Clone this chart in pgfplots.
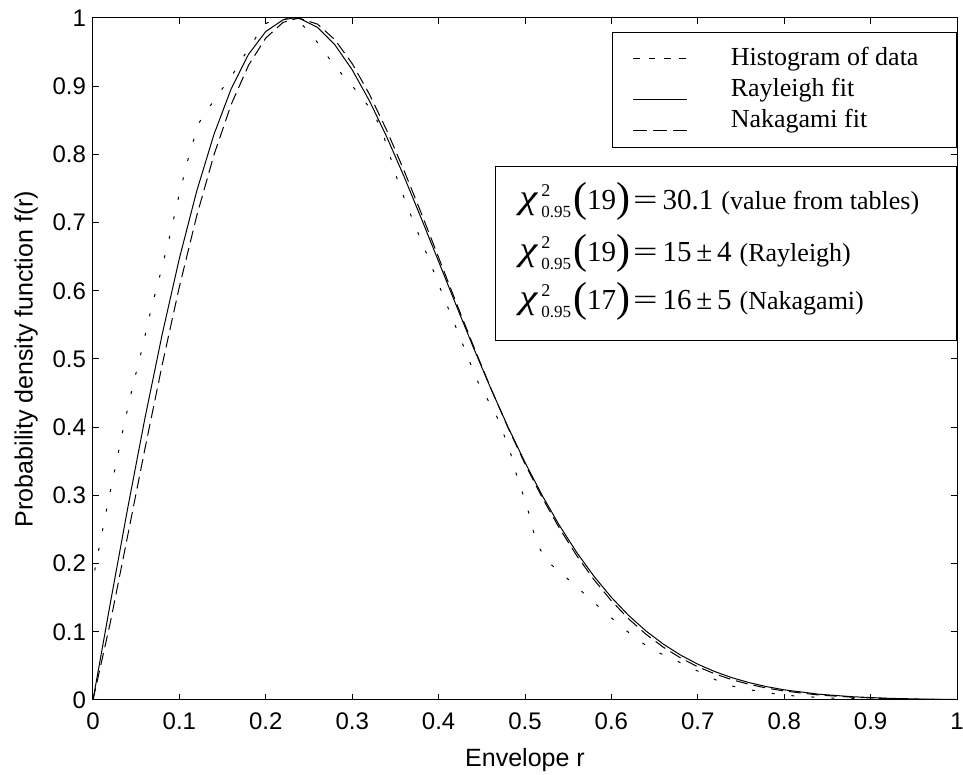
\documentclass[border=0pt]{standalone}
\usepackage{fontspec}
\setmainfont{Liberation Serif}
\setsansfont{Liberation Sans}
\usepackage{graphicx}
\usepackage{pgfplots}
\pgfplotsset{compat=1.18}
\newcommand{\bigpar}[1]{\raisebox{-1pt}{\fontsize{21}{21}\selectfont #1}}
\newcommand{\chisq}[1]{\raisebox{0.5pt}{\scalebox{1.2}[1]{\fontsize{17}{17}\selectfont\itshape χ}}\hspace{2pt}%
  \rlap{\raisebox{6.5pt}{\fontsize{9}{9}\selectfont 2}}\raisebox{-4pt}{\fontsize{8.5}{9}\selectfont 0.95}\hspace{1pt}%
  \bigpar{(}{\fontsize{14.5}{16}\selectfont #1}\bigpar{)}\hspace{1.5pt}%
  {\fontsize{14.5}{16}\selectfont\scalebox{1.5}[1]{=}}\hspace{2.5pt}}
\begin{document}
\begin{tikzpicture}
\useasboundingbox (-46.5pt,-37.5pt) rectangle (435pt,350pt);
\begin{axis}[name=ax, at={(0,0)}, anchor=south west,
  scale only axis, width=432pt, height=341pt,
  xmin=0, xmax=1, ymin=0, ymax=1,
  xtick={0,0.1,0.2,0.3,0.4,0.5,0.6,0.7,0.8,0.9,1},
  ytick={0,0.1,0.2,0.3,0.4,0.5,0.6,0.7,0.8,0.9,1},
  tick align=inside, tick pos=both, major tick length=3pt,
  axis line style={line width=0.5pt},
  every tick/.style={black, line width=0.5pt},
  tick label style={font=\sffamily\fontsize{12}{14}\selectfont},
  /pgf/number format/assume math mode=true,
  xticklabel style={yshift=-3pt},
  xlabel={Envelope r},
  ylabel={Probability density function f(r)},
  label style={font=\sffamily\fontsize{12.5}{14}\selectfont},
  xlabel style={at={(axis description cs:0.5,-0.088)}, anchor=center},
  ylabel style={at={(axis description cs:-0.0775,0.5)}, anchor=center},
  legend cell align=left,
  legend style={at={(1,0.9795)}, anchor=north east, draw=black, line width=0.5pt,
    fill=white, inner xsep=10pt, inner ysep=7pt, row sep=3pt,
    font=\fontsize{13}{15}\selectfont,
    nodes={inner sep=0pt, text height=9.5pt, text depth=3pt},
    /tikz/every odd column/.append style={column sep=21.5pt}},
]
\addplot[black, line width=0.5pt, dash pattern=on 1.5pt off 8.5pt,
  legend image code/.code={\draw[black, line width=0.5pt, dash pattern=on 3.3pt off 4.4pt] (0pt,0pt) -- (27pt,0pt);}]
  coordinates {(0.002,0.19)(0.009,0.236)(0.0177,0.292)(0.027,0.348)(0.036,0.404)(0.046,0.46)(0.057,0.516)(0.067,0.572)(0.078,0.625)(0.089,0.681)(0.099,0.737)(0.110,0.793)(0.122,0.845)(0.135,0.870)(0.149,0.895)(0.162,0.918)(0.174,0.943)(0.186,0.966)(0.197,0.990)(0.21,0.998)(0.225,1.0)(0.24,0.993)(0.251,0.978)(0.2655,0.955)(0.278,0.932)(0.2935,0.910)(0.3077,0.889)(0.321,0.867)(0.333,0.840)(0.34,0.813)(0.3535,0.758)(0.370,0.704)(0.3875,0.650)(0.404,0.597)(0.421,0.5435)(0.4376,0.491)(0.446,0.465)(0.457,0.440)(0.4676,0.415)(0.4756,0.389)(0.4833,0.362)(0.489,0.335)(0.496,0.308)(0.503,0.281)(0.5085,0.252)(0.5155,0.225)(0.527,0.202)(0.5446,0.183)(0.5616,0.164)(0.578,0.145)(0.595,0.126)(0.612,0.107)(0.631,0.088)(0.648,0.073)(0.670,0.061)(0.689,0.049)(0.709,0.037)(0.730,0.0235)(0.751,0.017)(0.774,0.012)(0.80,0.007)(0.85,0.003)(0.90,0.0012)(0.95,0.0005)(1.00,0.0)};
\addlegendentry{Histogram of data\hspace*{9pt}}
\addplot[black, line width=0.5pt,
  legend image code/.code={\draw[black, line width=0.5pt] (0pt,-5pt) -- (27pt,-5pt);}]
  coordinates {(0,0)(0.02,0.1416)(0.04,0.2801)(0.06,0.4124)(0.08,0.5357)(0.10,0.6476)(0.12,0.7460)(0.14,0.8293)(0.16,0.8964)(0.18,0.9467)(0.20,0.9802)(0.22,0.9973)(0.232,1.0)(0.24,0.9988)(0.26,0.9861)(0.28,0.9606)(0.30,0.9240)(0.32,0.8784)(0.34,0.8256)(0.36,0.7676)(0.38,0.7061)(0.40,0.6430)(0.42,0.5798)(0.44,0.5177)(0.46,0.4579)(0.48,0.4012)(0.50,0.3484)(0.52,0.2997)(0.54,0.2556)(0.56,0.2161)(0.58,0.1811)(0.60,0.1505)(0.62,0.1239)(0.64,0.1012)(0.66,0.0820)(0.68,0.0659)(0.70,0.0525)(0.72,0.0415)(0.74,0.0325)(0.76,0.0253)(0.78,0.0195)(0.80,0.0149)(0.84,0.0085)(0.88,0.0047)(0.92,0.0025)(0.96,0.0013)(1.00,0.0007)};
\addlegendentry{Rayleigh fit}
\addplot[black, line width=0.5pt, dash pattern=on 6pt off 3pt,
  legend image code/.code={\draw[black, line width=0.5pt, dash pattern=on 7pt off 3pt] (0pt,-5pt) -- (27pt,-5pt);}]
  coordinates {(0,0)(0.02,0.1133)(0.04,0.2400)(0.06,0.3676)(0.08,0.4910)(0.10,0.6060)(0.12,0.7096)(0.14,0.7993)(0.16,0.8734)(0.18,0.9307)(0.20,0.9707)(0.22,0.9936)(0.238,1.0)(0.26,0.9909)(0.28,0.9681)(0.30,0.9331)(0.32,0.8881)(0.34,0.8352)(0.36,0.7763)(0.38,0.7136)(0.40,0.6489)(0.42,0.5839)(0.44,0.5200)(0.46,0.4585)(0.48,0.4003)(0.50,0.3462)(0.52,0.2965)(0.54,0.2515)(0.56,0.2115)(0.58,0.1761)(0.60,0.1454)(0.62,0.1189)(0.64,0.0964)(0.66,0.0775)(0.68,0.0617)(0.70,0.0487)(0.72,0.0382)(0.74,0.0296)(0.76,0.0228)(0.78,0.0174)(0.80,0.0132)(0.84,0.0073)(0.88,0.0040)(0.92,0.0021)(0.96,0.0010)(1.00,0.0005)};
\addlegendentry{Nakagami fit}
\end{axis}
\node[draw, line width=0.5pt, fill=white, minimum width=230.5pt, minimum height=87pt,
  anchor=north east, inner sep=0pt] (cb) at ([yshift=-74pt]ax.north east) {};
\node[anchor=base west, inner sep=0pt] at ([xshift=12pt, yshift=-22pt]cb.north west)
  {\chisq{19}{\fontsize{14.5}{16}\selectfont 30.1}\hspace{4pt}{\fontsize{13}{15}\selectfont(value from tables)}};
\node[anchor=base west, inner sep=0pt] at ([xshift=12pt, yshift=-47.8pt]cb.north west)
  {\chisq{19}{\fontsize{14.5}{16}\selectfont 15\,±\,4}\hspace{4pt}{\fontsize{13}{15}\selectfont(Rayleigh)}};
\node[anchor=base west, inner sep=0pt] at ([xshift=12pt, yshift=-72pt]cb.north west)
  {\chisq{17}{\fontsize{14.5}{16}\selectfont 16\,±\,5}\hspace{4pt}{\fontsize{13}{15}\selectfont(Nakagami)}};
\end{tikzpicture}
\end{document}
